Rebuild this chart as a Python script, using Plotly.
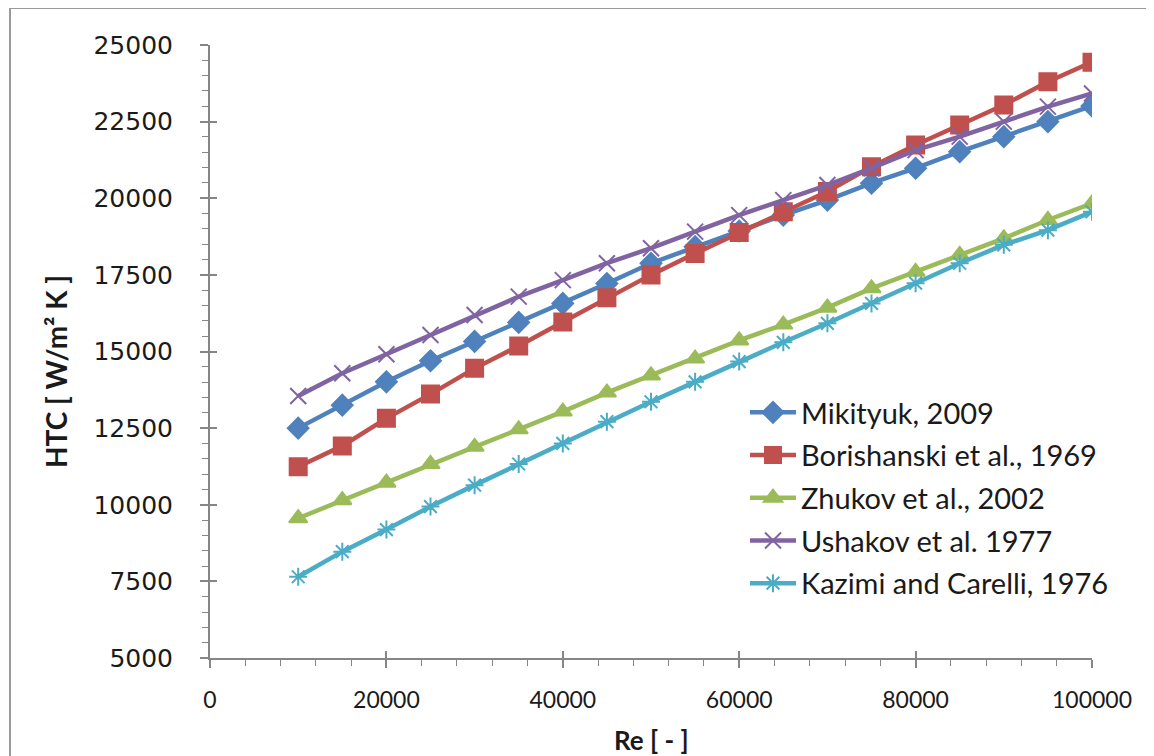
import plotly.graph_objects as go

re_values = [10000, 15000, 20000, 25000, 30000, 35000, 40000, 45000, 50000, 55000,
             60000, 65000, 70000, 75000, 80000, 85000, 90000, 95000, 100000]

mikityuk = [12500, 13250, 14010, 14700, 15330, 15950, 16570, 17220, 17880, 18420,
            18930, 19450, 19940, 20490, 20980, 21520, 22010, 22500, 23010]
borishanski = [11240, 11920, 12820, 13610, 14450, 15180, 15960, 16750, 17500, 18200,
               18880, 19560, 20220, 21030, 21740, 22390, 23040, 23800, 24440]
zhukov = [9560, 10150, 10720, 11330, 11890, 12460, 13040, 13660, 14220, 14770,
          15360, 15880, 16430, 17060, 17600, 18150, 18690, 19290, 19830]
ushakov = [13550, 14290, 14910, 15540, 16190, 16790, 17330, 17880, 18370, 18910,
           19450, 19940, 20430, 20980, 21570, 22010, 22500, 22990, 23420]
kazimi = [7650, 8470, 9190, 9940, 10640, 11330, 12000, 12710, 13360, 14010,
          14670, 15300, 15920, 16570, 17230, 17880, 18480, 18960, 19560]

series_names = ["Mikityuk, 2009", "Borishanski et al., 1969", "Zhukov et al., 2002",
                "Ushakov et al. 1977", "Kazimi and Carelli, 1976"]
series_values = [mikityuk, borishanski, zhukov, ushakov, kazimi]
colors = ["#4F81BD", "#C0504D", "#9BBB59", "#8064A2", "#4BACC6"]
symbols = ["diamond", "square", "triangle-up", "x-thin-open", "asterisk-open"]
sizes = [16, 17, 16, 16, 15]

x_ticks = [0, 20000, 40000, 60000, 80000, 100000]
y_ticks = [5000, 7500, 10000, 12500, 15000, 17500, 20000, 22500, 25000]

# page body adds an 8px margin, so the figure is placed at (8, 8) in the window
OFF = 8
W, H = 1154 - OFF, 756 - OFF
PX0, PX1, PY0, PY1 = 210, 1092, 45, 658   # plot area in window pixels
L, R, T, B = PX0 - OFF, W - (PX1 - OFF), PY0 - OFF, H - (PY1 - OFF)
pw, ph = PX1 - PX0, PY1 - PY0


def px(xw):
    return (xw - PX0) / pw


def py(yw):
    return (PY1 - yw) / ph


fig = go.Figure()
for i, (name, vals) in enumerate(zip(series_names, series_values)):
    fig.add_trace(go.Scatter(
        x=re_values, y=vals, name=name, mode="lines+markers",
        legendgroup=f"g{i}",
        line=dict(color=colors[i], width=4.5),
        marker=dict(symbol=symbols[i], size=sizes[i], color=colors[i],
                    line=dict(color=colors[i], width=2)),
    ))

axis_gray = "#868686"
fig.update_layout(
    width=W, height=H,
    margin=dict(l=L, r=R, t=T, b=B),
    paper_bgcolor="white", plot_bgcolor="white",
    showlegend=True,
    legend=dict(x=px(745), y=py(387), xanchor="left", yanchor="top",
                font=dict(family="Lato", size=29, color="#1a1a1a"),
                bgcolor="rgba(0,0,0,0)", tracegroupgap=2, itemwidth=46),
    xaxis=dict(range=[0, 100000], tickvals=x_ticks, ticktext=[str(v) for v in x_ticks],
               showgrid=False, zeroline=False, showline=True, linecolor=axis_gray, linewidth=2,
               ticks="outside", ticklen=8, tickwidth=1.5, tickcolor=axis_gray,
               minor=dict(dtick=4000, ticks="outside", ticklen=6, tickcolor=axis_gray, tickwidth=1),
               tickfont=dict(family="Lato", size=23, color="#1a1a1a"),
               ticklabelstandoff=12),
    yaxis=dict(range=[5000, 25000], tickvals=y_ticks, ticktext=[str(v) for v in y_ticks],
               showgrid=False, zeroline=False, showline=True, linecolor=axis_gray, linewidth=2,
               ticks="outside", ticklen=8, tickwidth=1.5, tickcolor=axis_gray,
               minor=dict(dtick=500, ticks="outside", ticklen=6, tickcolor=axis_gray, tickwidth=1),
               tickfont=dict(family="DejaVu Sans", size=25, color="#1a1a1a"),
               ticklabelstandoff=22),
    xaxis2=dict(overlaying="x", matches="x", range=[0, 100000], tickvals=x_ticks,
                showticklabels=False, ticks="inside", ticklen=7, tickwidth=1.5,
                tickcolor=axis_gray, showgrid=False, zeroline=False, showline=False,
                anchor="y", side="bottom"),
    yaxis2=dict(overlaying="y", matches="y", range=[5000, 25000], tickvals=y_ticks,
                showticklabels=False, ticks="inside", ticklen=7, tickwidth=1.5,
                tickcolor=axis_gray, showgrid=False, zeroline=False, showline=False,
                anchor="x", side="left"),
)
# invisible trace to activate the secondary (inside-tick) axes
fig.add_trace(go.Scatter(x=[None], y=[None], xaxis="x2", yaxis="y2",
                         showlegend=False, hoverinfo="skip"))

fig.add_annotation(text="<b>Re [ - ]</b>", xref="paper", yref="paper",
                   x=px(651), y=py(740), showarrow=False,
                   font=dict(family="Lato", size=26, color="#1a1a1a"),
                   xanchor="center", yanchor="middle")
fig.add_annotation(text="<b>HTC [ W/m² K ]</b>", xref="paper", yref="paper",
                   x=px(56), y=py(372), showarrow=False, textangle=-90,
                   font=dict(family="Lato", size=28, color="#1a1a1a"),
                   xanchor="center", yanchor="middle")

# outer chart border
fig.add_shape(type="rect", xref="paper", yref="paper",
              x0=px(10), x1=px(1151), y0=py(770), y1=py(8),
              line=dict(color="#9a9a9a", width=2), fillcolor="rgba(0,0,0,0)", layer="below")

fig.write_html("out.html")
